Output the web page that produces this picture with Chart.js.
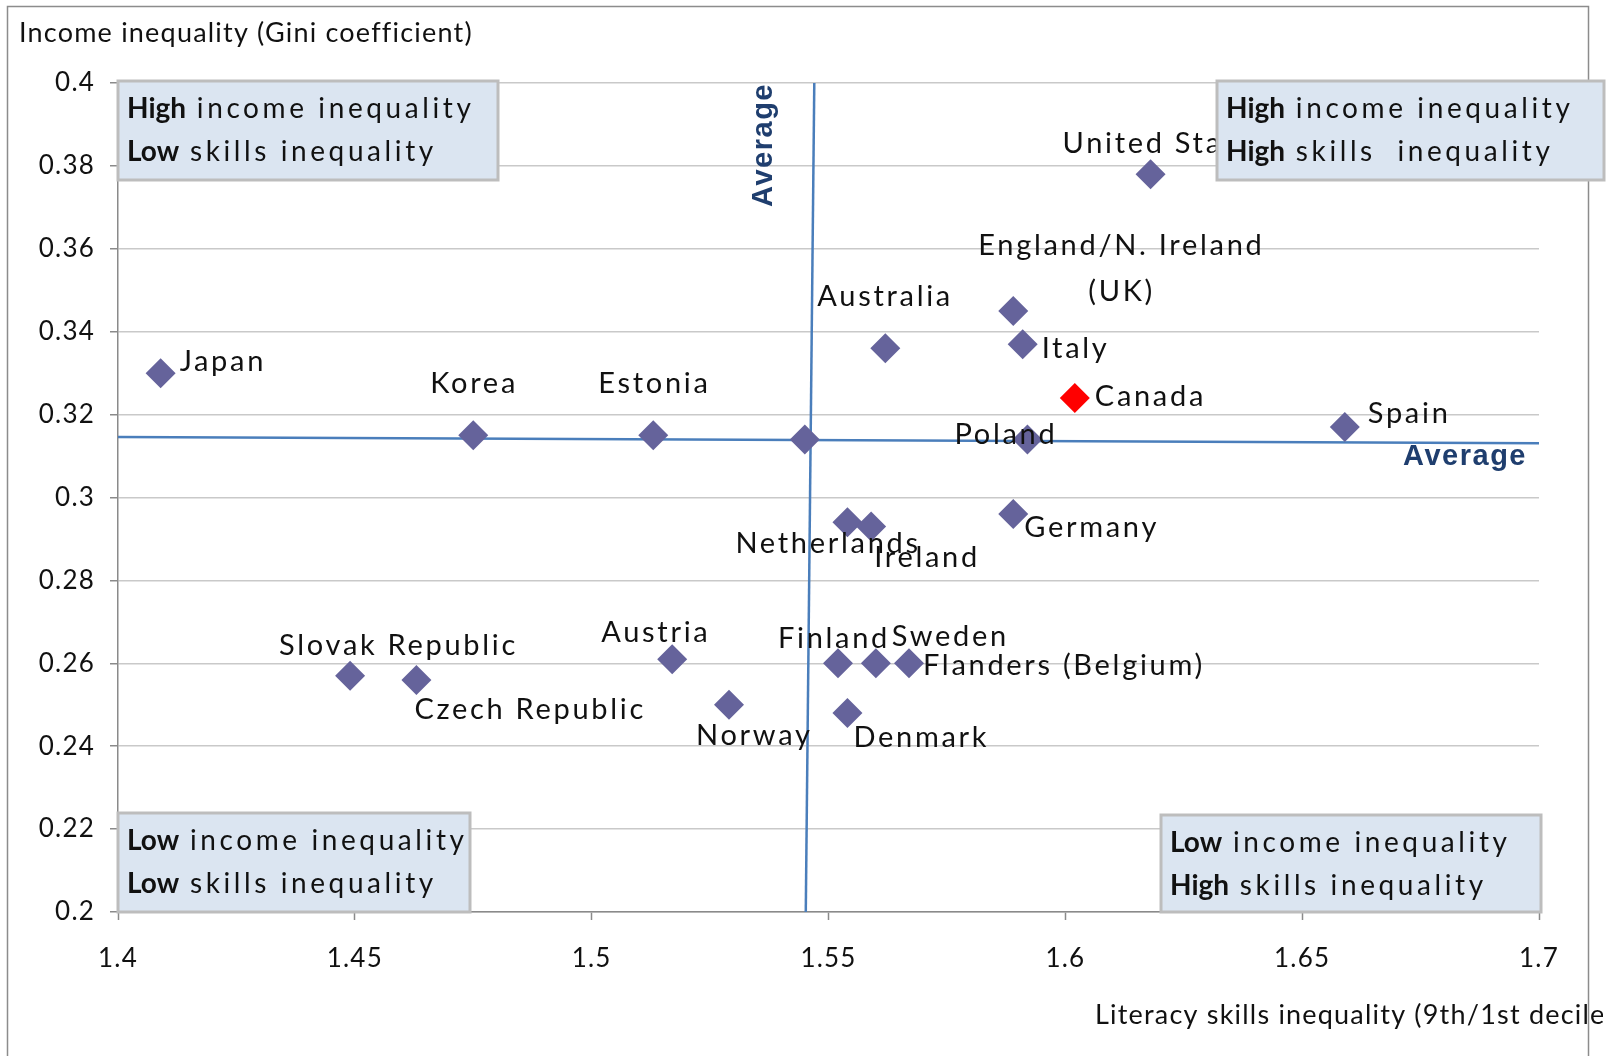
<!DOCTYPE html>
<html>
<head>
<meta charset="utf-8">
<script src="https://cdn.jsdelivr.net/npm/chart.js@4.4.1/dist/chart.umd.min.js"></script>
<style>
  html, body { margin: 0; padding: 0; background: #fff; }
</style>
</head>
<body>
<canvas id="chart" width="1614" height="1056"></canvas>
<script>
// --- data ---
const countries = ['Japan', 'Slovak Republic', 'Czech Republic', 'Korea', 'Estonia', 'Austria', 'Norway',
  'Average', 'Netherlands', 'Ireland', 'Finland', 'Sweden', 'Flanders (Belgium)', 'Denmark', 'Australia',
  'England/N. Ireland (UK)', 'Italy', 'Canada', 'Poland', 'Germany', 'United States', 'Spain'];
const literacyIneq = [1.409, 1.449, 1.463, 1.475, 1.513, 1.517, 1.529,
  1.545, 1.554, 1.559, 1.552, 1.560, 1.567, 1.554, 1.562,
  1.589, 1.591, 1.602, 1.592, 1.589, 1.618, 1.659];
const giniCoef = [0.330, 0.257, 0.256, 0.315, 0.315, 0.261, 0.250,
  0.314, 0.294, 0.293, 0.260, 0.260, 0.260, 0.248, 0.336,
  0.345, 0.337, 0.324, 0.314, 0.296, 0.378, 0.317];

const xTicks = [1.4, 1.45, 1.5, 1.55, 1.6, 1.65, 1.7];
const yTicks = [0.2, 0.22, 0.24, 0.26, 0.28, 0.3, 0.32, 0.34, 0.36, 0.38, 0.4];

// average reference lines (as drawn, slightly tilted)
const avgHorizX = [1.4, 1.7007];
const avgHorizY = [0.3146, 0.3131];
const avgVertX = [1.547, 1.5452];
const avgVertY = [0.4, 0.2];

const yTitle = 'Income inequality (Gini coefficient)';
const xTitle = 'Literacy skills inequality (9th/1st decile)';
const quadrants = [
  ['High', ' income inequality', 'Low', ' skills inequality'],
  ['High', ' income inequality', 'High', ' skills  inequality'],
  ['Low', ' income inequality', 'Low', ' skills inequality'],
  ['Low', ' income inequality', 'High', ' skills inequality']
];

// label placement: [line, dx of left edge, dy of middle] relative to the marker
const labelPlace = {
  'Japan': [['Japan', 19, -12]],
  'Slovak Republic': [['Slovak Republic', -71, -30]],
  'Czech Republic': [['Czech Republic', -2, 30]],
  'Korea': [['Korea', -43, -52]],
  'Estonia': [['Estonia', -55, -52]],
  'Austria': [['Austria', -71, -27]],
  'Norway': [['Norway', -33, 31]],
  'Netherlands': [['Netherlands', -112, 21]],
  'Ireland': [['Ireland', 3, 31]],
  'Finland': [['Finland', -60, -25]],
  'Sweden': [['Sweden', 16, -27]],
  'Flanders (Belgium)': [['Flanders (Belgium)', 14, 2]],
  'Denmark': [['Denmark', 6, 25]],
  'Australia': [['Australia', -68, -52]],
  'England/N. Ireland (UK)': [['England/N. Ireland', -35, -65], ['(UK)', 75, -19]],
  'Italy': [['Italy', 19, 5]],
  'Canada': [['Canada', 20, -1]],
  'Poland': [['Poland', -73, -5]],
  'Germany': [['Germany', 11, 14]],
  'United States': [['United States', -88, -31]],
  'Spain': [['Spain', 23, -13]]
};

const MARKER = '#65639b';
const HIGHLIGHT = '#ff0000';
const AVG_LINE = '#4a7ebb';
const AVG_TEXT = '#1f3e6e';
const LABEL_FONT = '29px Lato';

const overlay = {
  id: 'overlay',
  beforeDraw(chart) {
    const ctx = chart.ctx;
    ctx.save();
    ctx.fillStyle = '#fff';
    ctx.fillRect(0, 0, chart.width, chart.height);
    ctx.strokeStyle = '#8c8c8c';
    ctx.lineWidth = 1.5;
    ctx.strokeRect(7.5, 6.5, 1581, 1100);
    ctx.restore();
    // tick labels are spaced out like the original
    ctx.letterSpacing = '1.2px';
  },
  afterDatasetsDraw(chart) {
    const ctx = chart.ctx;
    const ca = chart.chartArea;
    const pts = chart.getDatasetMeta(0).data;

    // point labels
    ctx.save();
    ctx.font = LABEL_FONT;
    ctx.letterSpacing = '2.7px';
    ctx.fillStyle = '#111';
    ctx.textAlign = 'left';
    ctx.textBaseline = 'middle';
    countries.forEach((name, i) => {
      (labelPlace[name] || []).forEach(([txt, dx, dy]) => {
        ctx.fillText(txt, pts[i].x + dx, pts[i].y + dy);
      });
    });
    ctx.restore();

    // quadrant boxes
    const boxes = [
      { x: ca.left, y: ca.top - 2, w: 380, h: 99 },
      { x: 1217, y: ca.top - 2, w: 387, h: 99 },
      { x: ca.left, y: ca.bottom - 99, w: 352, h: 99 },
      { x: 1161, y: ca.bottom - 97, w: 380, h: 97 }
    ];
    boxes.forEach((b, i) => {
      ctx.save();
      ctx.fillStyle = '#dbe5f1';
      ctx.strokeStyle = '#bdbdbd';
      ctx.lineWidth = 3;
      ctx.fillRect(b.x, b.y, b.w, b.h);
      ctx.strokeRect(b.x, b.y, b.w, b.h);
      ctx.fillStyle = '#111';
      ctx.textBaseline = 'middle';
      const q = quadrants[i];
      [[q[0], q[1], b.y + 28], [q[2], q[3], b.y + 71]].forEach(([bold, rest, yy]) => {
        ctx.font = 'bold 28px Lato';
        ctx.letterSpacing = '0px';
        ctx.fillText(bold, b.x + 9, yy);
        const w = ctx.measureText(bold).width;
        ctx.font = '28px Lato';
        ctx.letterSpacing = '3.6px';
        ctx.fillText(rest, b.x + 9 + w, yy);
      });
      ctx.restore();
    });

    // "Average" captions
    ctx.save();
    ctx.fillStyle = AVG_TEXT;
    ctx.font = 'bold 29px "Liberation Sans"';
    ctx.letterSpacing = '1.5px';
    ctx.textBaseline = 'middle';
    ctx.textAlign = 'right';
    ctx.fillText('Average', 1527, 457);
    ctx.translate(764, 83);
    ctx.rotate(-Math.PI / 2);
    ctx.fillText('Average', 0, 0);
    ctx.restore();

    // axis titles
    ctx.save();
    ctx.fillStyle = '#111';
    ctx.font = '27px Lato';
    ctx.letterSpacing = '1.2px';
    ctx.textBaseline = 'middle';
    ctx.textAlign = 'left';
    ctx.fillText(yTitle, 19, 33);
    ctx.beginPath();
    ctx.rect(0, 0, 1603, chart.height);
    ctx.clip();
    ctx.fillText(xTitle, 1095, 1015);
    ctx.restore();
  }
};

const ctx = document.getElementById('chart');
new Chart(ctx, {
  type: 'scatter',
  data: {
    datasets: [
      {
        label: 'Countries',
        data: countries.map((c, i) => ({ x: literacyIneq[i], y: giniCoef[i] })),
        pointStyle: 'rectRot',
        pointRadius: 15,
        pointHoverRadius: 15,
        borderWidth: 0,
        backgroundColor: countries.map(c => c === 'Canada' ? HIGHLIGHT : MARKER),
        order: 0
      },
      {
        label: 'Average (income)',
        data: avgHorizX.map((x, i) => ({ x, y: avgHorizY[i] })),
        showLine: true,
        borderColor: AVG_LINE,
        borderWidth: 2.5,
        pointRadius: 0,
        order: 1
      },
      {
        label: 'Average (skills)',
        data: avgVertX.map((x, i) => ({ x, y: avgVertY[i] })),
        showLine: true,
        borderColor: AVG_LINE,
        borderWidth: 2.5,
        pointRadius: 0,
        order: 1
      }
    ]
  },
  options: {
    responsive: false,
    animation: false,
    layout: { padding: { left: 0, right: 75, top: 83, bottom: 0 } },
    plugins: { legend: { display: false }, tooltip: { enabled: false } },
    scales: {
      x: {
        type: 'linear',
        min: 1.4,
        max: 1.7,
        afterBuildTicks: s => { s.ticks = xTicks.map(v => ({ value: v })); },
        afterFit: s => { s.height = 144; },
        ticks: {
          font: { family: 'Lato', size: 26 },
          color: '#111',
          padding: 23,
          maxRotation: 0,
          callback: v => String(v)
        },
        grid: { drawOnChartArea: false, tickLength: 8, tickColor: '#8a8a8a', tickWidth: 1.5 },
        border: { color: '#8a8a8a', width: 1.5 }
      },
      y: {
        type: 'linear',
        min: 0.2,
        max: 0.4,
        afterBuildTicks: s => { s.ticks = yTicks.map(v => ({ value: v })); },
        afterFit: s => { s.width = 118; },
        ticks: {
          font: { family: 'Lato', size: 26 },
          color: '#111',
          padding: 15,
          callback: v => String(+v.toFixed(2))
        },
        grid: { color: '#c9c9c9', lineWidth: 1.5, tickLength: 8, tickColor: '#8a8a8a' },
        border: { color: '#8a8a8a', width: 1.5 }
      }
    }
  },
  plugins: [overlay]
});
</script>
</body>
</html>
